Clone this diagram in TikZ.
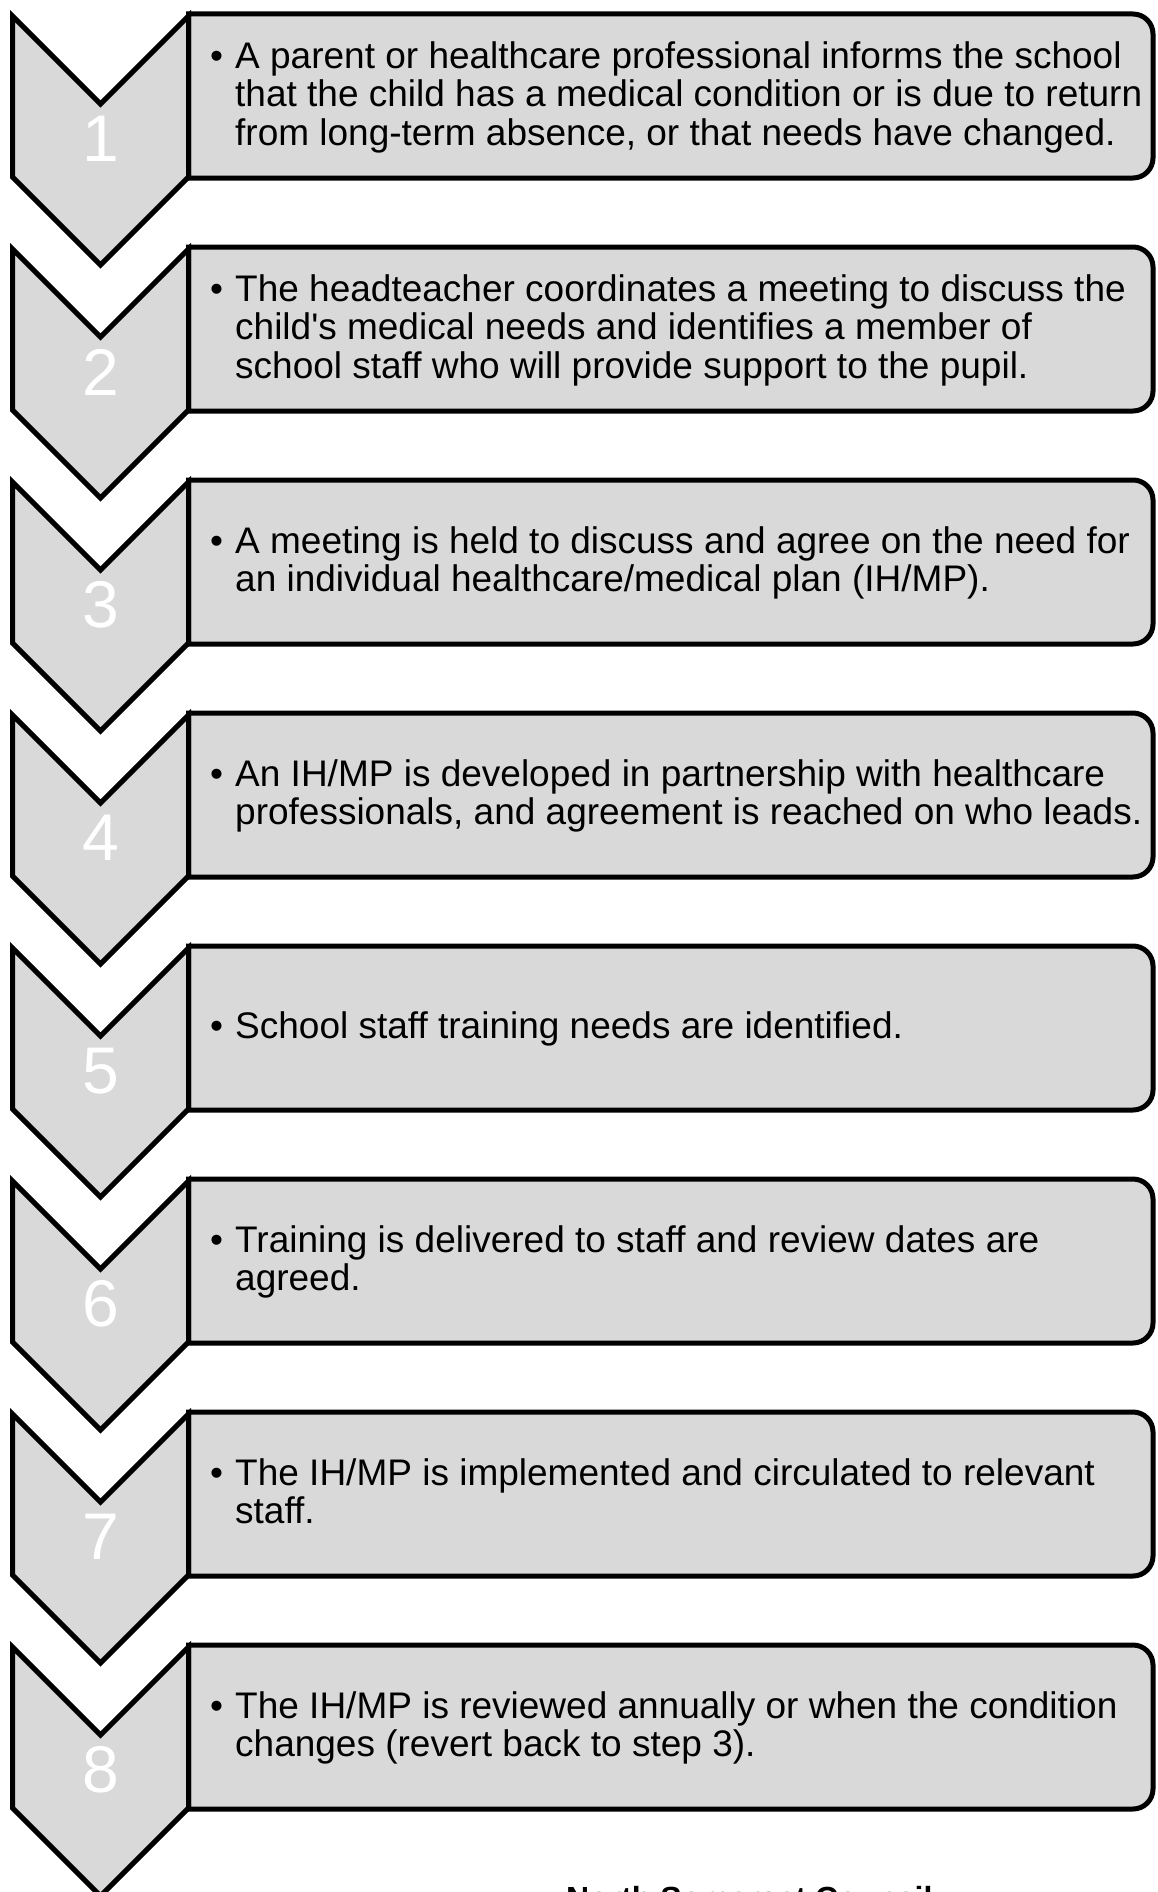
\documentclass[tikz,border=0pt]{standalone}
\usepackage{fontspec}
\setmainfont{Liberation Sans}[Ligatures=TeXOff]
\definecolor{boxgray}{HTML}{D9D9D9}
\newcommand\chevstep[2]{%
  \pgfmathsetmacro\cT{16+233*(#1-1)}%
  \pgfmathsetmacro\cTop{-\cT}%
  \pgfmathsetmacro\cNotch{-\cT-88}%
  \pgfmathsetmacro\cSide{-\cT-161}%
  \pgfmathsetmacro\cTip{-\cT-249}%
  \pgfmathsetmacro\bTop{-\cT+2}%
  \pgfmathsetmacro\bBot{-\cT-162}%
  \pgfmathsetmacro\bBotR{-\cT-162+20}%
  \pgfmathsetmacro\tY{-\cT-83}%
  \pgfmathsetmacro\nY{-\cT-123}%
  \draw[panel] (188.5,\bTop) -- (1133,\bTop) arc[start angle=90,end angle=0,radius=20]
     -- (1153,\bBotR) arc[start angle=0,end angle=-90,radius=20] -- (188.5,\bBot) -- cycle;
  \draw[panel] (12.5,\cTop) -- (100.5,\cNotch) -- (188.5,\cTop) -- (188.5,\cSide)
     -- (100.5,\cTip) -- (12.5,\cSide) -- cycle;
  \node[numtxt] (n#1) at (100.5,\nY) {#1};
  \node[bodytxt] (t#1) at (210,\tY) {\begin{tabular}{@{}l@{}l@{}}\makebox[25pt][l]{\textbullet}&#2\end{tabular}};
}
\begin{document}
\begin{tikzpicture}[x=1pt,y=1pt,
  panel/.style={fill=boxgray,draw=black,line width=5pt,line join=miter},
  numtxt/.style={text=white,inner sep=0pt,font=\fontsize{66}{66}\selectfont},
  bodytxt/.style={anchor=west,inner sep=0pt,font=\fontsize{37}{38.5}\selectfont},
  foot/.style={anchor=north west,inner sep=0pt,font=\bfseries\fontsize{32}{34}\selectfont}]
\useasboundingbox (0,0) rectangle (1157,-1892);
\fill[white] (0,0) rectangle (1157,-1892);
\chevstep{1}{A parent or healthcare professional informs the school\\&that the child has a medical condition or is due to return\\&from long-term absence, or that needs have changed.}
\chevstep{2}{The headteacher coordinates a meeting to discuss the\\&child's medical needs and identifies a member of\\&school staff who will provide support to the pupil.}
\chevstep{3}{A meeting is held to discuss and agree on the need for\\&an individual healthcare/medical plan (IH/MP).}
\chevstep{4}{An IH/MP is developed in partnership with healthcare\\&professionals, and agreement is reached on who leads.}
\chevstep{5}{School staff training needs are identified.}
\chevstep{6}{Training is delivered to staff and review dates are\\&agreed.}
\chevstep{7}{The IH/MP is implemented and circulated to relevant\\&staff.}
\chevstep{8}{The IH/MP is reviewed annually or when the condition\\&changes (revert back to step 3).}
\node[foot] (footer) at (566,-1886) {North Somerset Council};
\end{tikzpicture}
\end{document}
